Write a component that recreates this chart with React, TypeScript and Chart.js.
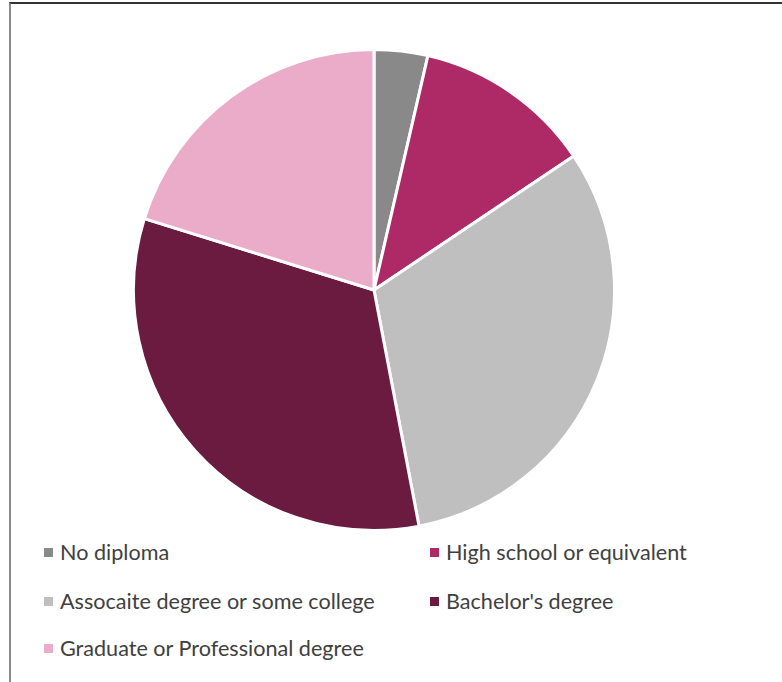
import React, { useEffect, useRef } from "react";
import { Chart, registerables } from "chart.js";

Chart.register(...registerables);

const categories = [
  "No diploma",
  "High school or equivalent",
  "Assocaite degree or some college",
  "Bachelor's degree",
  "Graduate or Professional degree",
];
const shares = [3.6, 12.0, 31.4, 32.8, 20.2];
const colors = ["#898989", "#AD2A67", "#BFBFBF", "#6B1A40", "#EBACC9"];

export default function App() {
  const ref = useRef<HTMLCanvasElement>(null);
  useEffect(() => {
    document.body.style.margin = "0";
    const chart = new Chart(ref.current!, {
      type: "pie",
      data: {
        labels: categories,
        datasets: [
          {
            data: shares,
            backgroundColor: colors,
            borderColor: "#ffffff",
            borderWidth: 3,
          },
        ],
      },
      options: {
        responsive: false,
        animation: false,
        layout: { padding: 0 },
        plugins: { legend: { display: false }, tooltip: { enabled: false } },
      },
    });
    return () => chart.destroy();
  }, []);

  const legendPos = [
    { left: 44, top: 552 },
    { left: 430, top: 552 },
    { left: 44, top: 601 },
    { left: 430, top: 601 },
    { left: 44, top: 648 },
  ];

  return (
    <div style={{ position: "relative", width: 782, height: 682, overflow: "hidden", background: "#fff" }}>
      <div
        style={{
          position: "absolute",
          left: 9,
          top: 2,
          width: 800,
          height: 700,
          borderLeft: "2px solid #8a8a8a",
          borderTop: "2px solid #333",
        }}
      />
      <canvas
        ref={ref}
        width={484}
        height={484}
        style={{ position: "absolute", left: 132, top: 48, width: 484, height: 484 }}
      />
      {categories.map((c, i) => (
        <div
          key={c}
          style={{
            position: "absolute",
            left: legendPos[i].left,
            top: legendPos[i].top,
            transform: "translateY(-50%)",
            display: "flex",
            alignItems: "center",
            fontFamily: "Lato, sans-serif",
            fontSize: 21.6,
            color: "#404040",
            whiteSpace: "nowrap",
          }}
        >
          <span style={{ display: "inline-block", width: 9, height: 9, background: colors[i], marginRight: 7 }} />
          <span>{c}</span>
        </div>
      ))}
    </div>
  );
}
